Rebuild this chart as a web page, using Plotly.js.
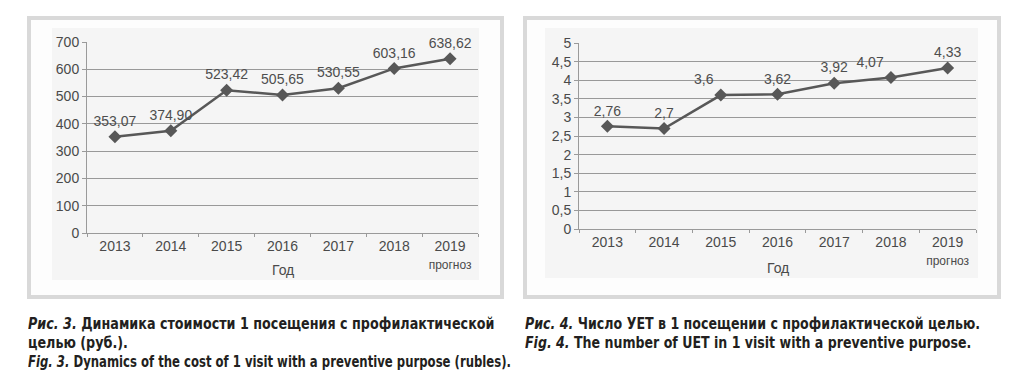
<!DOCTYPE html>
<html>
<head>
<meta charset="utf-8">
<script src="https://cdn.plot.ly/plotly-3.0.1.min.js"></script>
<style>
html,body{margin:0;padding:0;background:#fff;}
#wrap{position:relative;width:1024px;height:380px;}
#chart{width:1024px;height:380px;}
.cap{position:absolute;font-family:'Liberation Sans Narrow','Arial Narrow','DejaVu Sans Condensed','DejaVu Sans',sans-serif;
  font-stretch:condensed;font-weight:bold;font-size:15px;color:#231f20;line-height:19px;}
.cap div{white-space:nowrap;transform-origin:0 0;height:19px;}
</style>
</head>
<body>
<div id="wrap">
<div id="chart"></div>
<div class="cap" id="cap3" style="left:28px;top:315px;"></div>
<div class="cap" id="cap4" style="left:525px;top:315px;"></div>
</div>
<script>
// ---- data ----
const years = ["2013", "2014", "2015", "2016", "2017", "2018", "2019"];
const yearLabels = ["2013", "2014", "2015", "2016", "2017", "2018",
  "2019<br><span style='font-size:12px'>прогноз</span>"];
const costValues = [353.07, 374.90, 523.42, 505.65, 530.55, 603.16, 638.62];
const uetValues = [2.76, 2.7, 3.6, 3.62, 3.92, 4.07, 4.33];
const costTicks = [0, 100, 200, 300, 400, 500, 600, 700];
const uetTicks = [0, 0.5, 1, 1.5, 2, 2.5, 3, 3.5, 4, 4.5, 5];
const xTitle = "Год";
const caption3 = [
  "<i>Рис. 3.</i> Динамика стоимости 1 посещения с профилактической",
  "целью (руб.).",
  "<i>Fig. 3.</i> Dynamics of the cost of 1 visit with a preventive purpose (rubles)."
];
const caption4 = [
  "<i>Рис. 4.</i> Число УЕТ в 1 посещении с профилактической целью.",
  "<i>Fig. 4.</i> The number of UET in 1 visit with a preventive purpose."
];
const caption3Squeeze = [0.944, 0.944, 0.865];
const caption4Squeeze = [0.936, 0.933];

function fillCaption(id, lines, squeeze) {
  const el = document.getElementById(id);
  lines.forEach((t, i) => {
    const d = document.createElement('div');
    d.innerHTML = t;
    d.style.transform = 'scaleX(' + squeeze[i] + ')';
    el.appendChild(d);
  });
}
fillCaption('cap3', caption3, caption3Squeeze);
fillCaption('cap4', caption4, caption4Squeeze);

const commaNum = (v) => String(v).replace('.', ',');
const costLabels = costValues.map(v => v.toFixed(2).replace('.', ','));
const uetLabels = uetValues.map(commaNum);
const costLabelPos = ['top center', 'top center', 'top center', 'top center', 'top center', 'top center', 'top center'];
const uetLabelPos = ['top center', 'top center', 'top left', 'top center', 'top center', 'top left', 'top center'];

// ---- helpers ----
const W = 1024, H = 380;
const px = (x) => x / W;
const py = (y) => 1 - y / H;

const lineColor = '#585858';
const FAM = 'Arial, Liberation Sans, sans-serif';
const labelFont = {family: FAM, size: 14, color: '#4e4e4e'};
const tickFont = {family: FAM, size: 14, color: '#4a4a4a'};

function series(y, text, pos, xa, ya) {
  return {
    type: 'scatter', mode: 'lines+markers+text',
    x: years, y: y, text: text, textposition: pos,
    textfont: labelFont, cliponaxis: false,
    line: {color: lineColor, width: 2.5},
    marker: {symbol: 'diamond', size: 10, color: lineColor},
    xaxis: xa, yaxis: ya, hoverinfo: 'skip', showlegend: false
  };
}

function xAxis(domain, anchor) {
  return {
    domain: domain, anchor: anchor, type: 'category',
    tickmode: 'array', tickvals: years, ticktext: yearLabels,
    range: [-0.5, 6.5], tickson: 'boundaries',
    ticks: 'outside', ticklen: 3, tickcolor: '#9a9a9a',
    showline: true, linecolor: '#9a9a9a', linewidth: 1,
    showgrid: false, zeroline: false, tickfont: tickFont,
    fixedrange: true
  };
}
function yAxis(domain, anchor, range, ticks) {
  return {
    domain: domain, anchor: anchor, range: range,
    tickmode: 'array', tickvals: ticks, ticktext: ticks.map(commaNum),
    ticks: 'outside', ticklen: 4, tickcolor: '#9a9a9a',
    showline: true, linecolor: '#9a9a9a', linewidth: 1,
    showgrid: true, gridcolor: '#999999', gridwidth: 1,
    zeroline: false, tickfont: tickFont, fixedrange: true
  };
}

const data = [
  series(costValues, costLabels, costLabelPos, 'x', 'y'),
  series(uetValues, uetLabels, uetLabelPos, 'x2', 'y2')
];

const shapes = [
  {type: 'rect', xref: 'paper', yref: 'paper', layer: 'below',
   x0: px(29), x1: px(502), y0: py(297), y1: py(18),
   line: {color: '#d9d9d9', width: 4}, fillcolor: '#fdfdfd'},
  {type: 'rect', xref: 'paper', yref: 'paper', layer: 'below',
   x0: px(525), x1: px(999), y0: py(297), y1: py(18),
   line: {color: '#d9d9d9', width: 4}, fillcolor: '#fdfdfd'},
  {type: 'rect', xref: 'paper', yref: 'paper', layer: 'below',
   x0: px(52), x1: px(479), y0: py(280), y1: py(28),
   line: {width: 0}, fillcolor: '#f5f5f5'},
  {type: 'rect', xref: 'paper', yref: 'paper', layer: 'below',
   x0: px(545), x1: px(978), y0: py(278), y1: py(28),
   line: {width: 0}, fillcolor: '#f5f5f5'}
];

const titleFont = {family: FAM, size: 14, color: '#4a4a4a'};
const annotations = [
  {text: xTitle, xref: 'x domain', yref: 'paper', x: 0.5, y: py(270),
   xanchor: 'center', yanchor: 'middle', showarrow: false, font: titleFont},
  {text: xTitle, xref: 'x2 domain', yref: 'paper', x: 0.5, y: py(268),
   xanchor: 'center', yanchor: 'middle', showarrow: false, font: titleFont}
];

const layout = {
  width: W, height: H,
  margin: {l: 0, r: 0, t: 0, b: 0},
  paper_bgcolor: '#ffffff', plot_bgcolor: '#dedede',
  separators: ', ',
  showlegend: false,
  font: {family: FAM},
  xaxis: xAxis([px(87), px(478)], 'y'),
  yaxis: yAxis([py(233), py(42)], 'x', [0, 700], costTicks),
  xaxis2: xAxis([px(579), px(976)], 'y2'),
  yaxis2: yAxis([py(229), py(43)], 'x2', [0, 5], uetTicks),
  shapes: shapes,
  annotations: annotations
};

Plotly.newPlot('chart', data, layout, {staticPlot: true, displayModeBar: false});
</script>
</body>
</html>
